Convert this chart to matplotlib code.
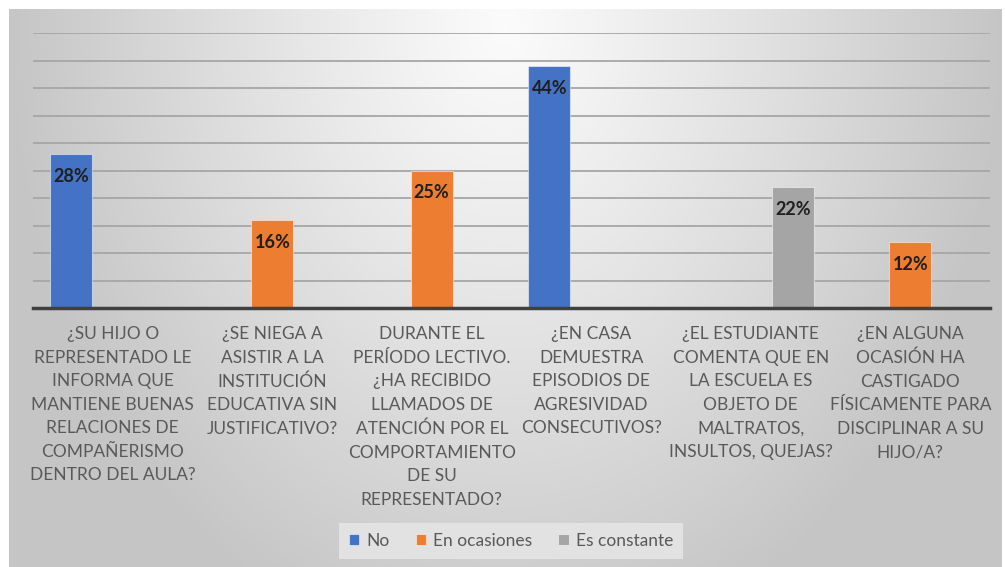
import numpy as np
import matplotlib
matplotlib.use("Agg")
import matplotlib.pyplot as plt

matplotlib.rcParams['font.family'] = ['Lato', 'DejaVu Sans']

# data (percent)
categories = [
    "¿SU HIJO O\nREPRESENTADO LE\nINFORMA QUE\nMANTIENE BUENAS\nRELACIONES DE\nCOMPAÑERISMO\nDENTRO DEL AULA?",
    "¿SE NIEGA A\nASISTIR A LA\nINSTITUCIÓN\nEDUCATIVA SIN\nJUSTIFICATIVO?",
    "DURANTE EL\nPERÍODO LECTIVO.\n¿HA RECIBIDO\nLLAMADOS DE\nATENCIÓN POR EL\nCOMPORTAMIENTO\nDE SU\nREPRESENTADO?",
    "¿EN CASA\nDEMUESTRA\nEPISODIOS DE\nAGRESIVIDAD\nCONSECUTIVOS?",
    "¿EL ESTUDIANTE\nCOMENTA QUE EN\nLA ESCUELA ES\nOBJETO DE\nMALTRATOS,\nINSULTOS, QUEJAS?",
    "¿EN ALGUNA\nOCASIÓN HA\nCASTIGADO\nFÍSICAMENTE PARA\nDISCIPLINAR A SU\nHIJO/A?",
]
series_names = ["No", "En ocasiones", "Es constante"]
no_vals = [28, 0, 0, 44, 0, 0]
ocasiones_vals = [0, 16, 25, 0, 0, 12]
constante_vals = [0, 0, 0, 0, 22, 0]
colors = ["#4472C4", "#ED7D31", "#A5A5A5"]

W, H = 1005, 567
fig = plt.figure(figsize=(W / 100, H / 100), dpi=100)
fig.patch.set_facecolor("white")

# gradient background of the chart area
bg = fig.add_axes([9 / W, 0, (1001 - 9) / W, (H - 9) / H], zorder=0)
gx = np.linspace(0, 1, 400)
gy = np.linspace(0, 1, 300)
X, Y = np.meshgrid(gx, gy)
r = np.sqrt(((X - 0.5) / 0.5) ** 2 + ((Y - 0.03) / 1.15) ** 2)
r = np.clip(r, 0, 1)
v = 0.985 - 0.21 * r ** 1.1
bg.imshow(np.dstack([v, v, v]), aspect="auto", extent=[0, 1, 1, 0], interpolation="bilinear")
bg.axis("off")

ax = fig.add_axes([33 / W, 1 - 308 / H, (990 - 33) / W, (308 - 33) / H], zorder=1)
ax.patch.set_alpha(0)

x = np.arange(len(categories))
width = 0.263
all_series = [no_vals, ocasiones_vals, constante_vals]
for i, (vals, name, c) in enumerate(zip(all_series, series_names, colors)):
    bars = ax.bar(x + (i - 1) * width, vals, width, color=c, label=name,
                  edgecolor=(1, 1, 1, 0.5), linewidth=0.8, zorder=3)
    for bar, val in zip(bars, vals):
        if val == 0:
            continue
        ax.annotate(f"{val}%", xy=(bar.get_x() + bar.get_width() / 2, val),
                    xytext=(0, -10), textcoords="offset points", ha="center", va="top",
                    fontsize=13, fontweight="bold", color="#1f1f1f", zorder=4)

ax.set_xlim(-0.5, len(categories) - 0.5)
ax.set_ylim(0, 50)
ax.set_yticks(np.arange(0, 51, 5))
ax.yaxis.grid(True, color="#a6a6a6", linewidth=1.3, zorder=1)
ax.tick_params(axis="y", length=0, labelleft=False)
ax.set_xticks(x)
ax.set_xticklabels(categories, fontsize=12.5, color="#595959", linespacing=1.58)
ax.tick_params(axis="x", length=0, pad=13)
for s in ["top", "right", "left"]:
    ax.spines[s].set_visible(False)
ax.spines["bottom"].set_color("#404040")
ax.spines["bottom"].set_linewidth(2.5)
ax.spines["bottom"].set_zorder(5)

leg = fig.legend(loc="center", bbox_to_anchor=(511 / W, 1 - 541 / H), ncol=3,
                 frameon=True, facecolor="#e2e2e2", edgecolor="none", framealpha=1,
                 fontsize=12.5, handlelength=0.6, handleheight=0.6, handletextpad=0.4,
                 columnspacing=1.5, borderpad=0.6, fancybox=False)
for t in leg.get_texts():
    t.set_color("#595959")

fig.savefig("out.png", dpi=100)
